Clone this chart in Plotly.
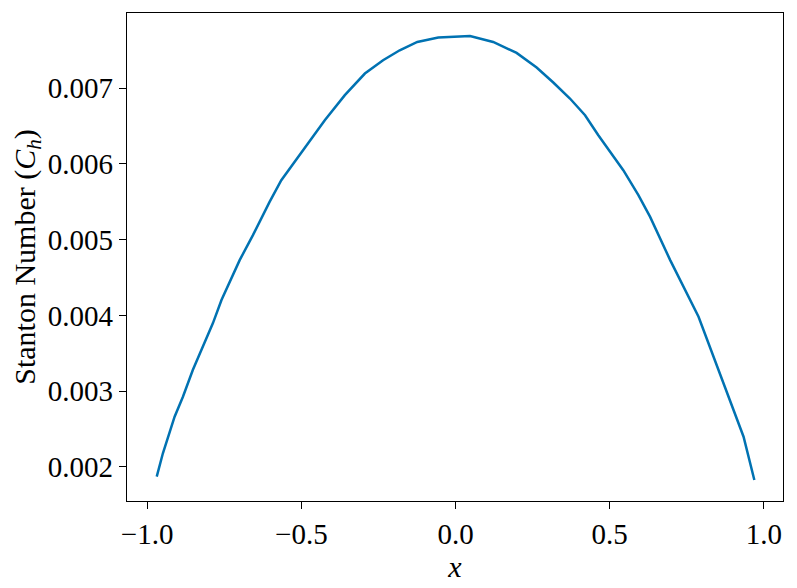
import plotly.graph_objects as go

# Stanton number distribution along x
x_vals = [
    -0.969, -0.949, -0.911, -0.884, -0.852, -0.819, -0.787, -0.759, -0.700,
    -0.657, -0.603, -0.565, -0.505, -0.424, -0.359, -0.294, -0.235, -0.181,
    -0.124, -0.056, 0.047, 0.122, 0.198, 0.263, 0.317, 0.371, 0.420, 0.463,
    0.544, 0.593, 0.631, 0.696, 0.788, 0.837, 0.891, 0.934, 0.969,
]
stanton = [
    0.001872, 0.002181, 0.002664, 0.002927, 0.003280, 0.003587, 0.003896,
    0.004203, 0.004731, 0.005061, 0.005500, 0.005786, 0.006116, 0.006578,
    0.006908, 0.007194, 0.007369, 0.007501, 0.007611, 0.007669, 0.007690,
    0.007611, 0.007466, 0.007273, 0.007075, 0.006864, 0.006644, 0.006380,
    0.005918, 0.005588, 0.005302, 0.004731, 0.003983, 0.003455, 0.002884,
    0.002400, 0.001828,
]

x_ticks = [-1.0, -0.5, 0.0, 0.5, 1.0]
y_ticks = [0.002, 0.003, 0.004, 0.005, 0.006, 0.007]

FONT = "Liberation Serif"

fig = go.Figure()
fig.add_trace(
    go.Scatter(
        x=x_vals,
        y=stanton,
        mode="lines",
        line={"color": "#0072B2", "width": 2.5},
        showlegend=False,
    )
)

axis_common = {
    "showline": True,
    "linecolor": "black",
    "linewidth": 1.3,
    "mirror": True,
    "ticks": "outside",
    "ticklen": 7,
    "tickwidth": 1.3,
    "tickcolor": "black",
    "showgrid": False,
    "zeroline": False,
    "automargin": False,
    "tickfont": {"family": FONT, "size": 29, "color": "black"},
}

# the page body has an 8px margin, so the figure is sized to land the
# plot area where the reference has it
fig.update_layout(
    width=789,
    height=580,
    margin={"l": 119, "r": 14, "t": 5, "b": 87},
    paper_bgcolor="white",
    plot_bgcolor="white",
    font={"family": FONT, "color": "black"},
    xaxis={
        **axis_common,
        "range": [-1.0654, 1.0619],
        "tickvals": x_ticks,
        "tickformat": ".1f",
        "title": {"text": "<i>x</i>", "font": {"family": FONT, "size": 30}, "standoff": 0},
    },
    yaxis={
        **axis_common,
        "range": [0.001551, 0.007993],
        "tickvals": y_ticks,
        "tickformat": ".3f",
        "title": {
            "text": "Stanton Number (<i>C</i><sub><i>h</i></sub>)",
            "font": {"family": FONT, "size": 30},
            "standoff": 5,
        },
    },
)

fig.write_html("out.html")
